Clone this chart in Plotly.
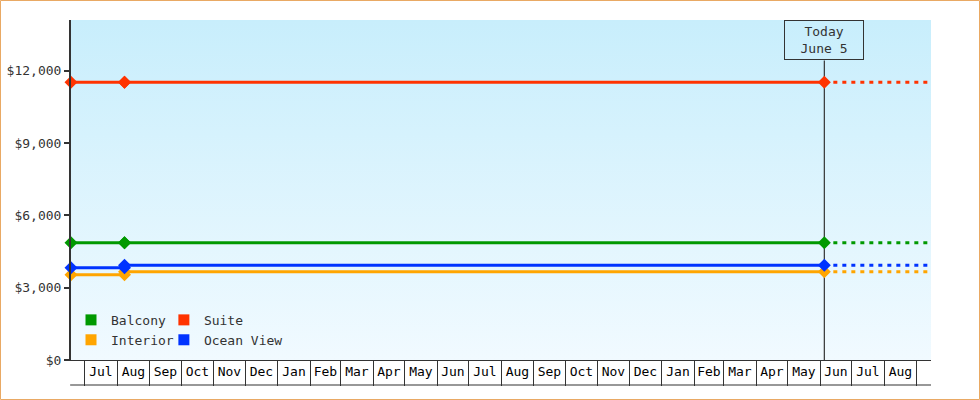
import base64
import plotly.graph_objects as go

# price history per cabin type
dates = ["2023-06-18", "2023-08-08", "2023-08-08", "2025-06-05"]
balcony = [4858, 4858, 4858, 4858]
suite = [11520, 11520, 11520, 11520]
interior = [3534, 3534, 3658, 3658]
ocean_view = [3823, 3823, 3931, 3931]

today = "2025-06-05"
forecast_end = "2025-10-01"

names = ["Balcony", "Suite", "Interior", "Ocean View"]
colors = ["#009900", "#ff3300", "#ffa500", "#0033ff"]
series = [balcony, suite, interior, ocean_view]

y_ticks = [0, 3000, 6000, 9000, 12000]

FONT = "DejaVu Sans Mono"
INK = "#333333"

fig = go.Figure()

# solid history + dashed projection past today
for name, col, vals in zip(names, colors, series):
    fig.add_trace(go.Scatter(
        x=[today, forecast_end], y=[vals[-1], vals[-1]],
        mode="lines", line=dict(color=col, width=3, dash="4px,5px"),
        showlegend=False, hoverinfo="skip"))
for name, col, vals in zip(names, colors, series):
    fig.add_trace(go.Scatter(
        x=dates, y=vals, name=name, mode="lines+markers",
        line=dict(color=col, width=3),
        marker=dict(symbol="diamond", size=10, color=col),
        cliponaxis=False, showlegend=False))

# legend squares: left column Balcony/Interior, right column Suite/Ocean View
for i, (name, col) in enumerate(zip(names, colors)):
    fig.add_trace(go.Scatter(
        x=[None], y=[None], name=name, mode="markers",
        marker=dict(symbol="square", size=11, color=col),
        legend="legend" if i % 2 == 0 else "legend2"))

# gradient background
svg = ('<svg xmlns="http://www.w3.org/2000/svg" width="10" height="100" '
       'viewBox="0 0 10 100" preserveAspectRatio="none"><defs>'
       '<linearGradient id="g" x1="0" y1="0" x2="0" y2="1">'
       '<stop offset="0" stop-color="#c8eefc"/>'
       '<stop offset="1" stop-color="#f1faff"/></linearGradient></defs>'
       '<rect width="10" height="100" fill="url(#g)"/></svg>')
bg = "data:image/svg+xml;base64," + base64.b64encode(svg.encode()).decode()
fig.add_layout_image(source=bg, xref="paper", yref="paper", x=0, y=1,
                     sizex=1, sizey=1, sizing="stretch", layer="below",
                     xanchor="left", yanchor="top")

# today marker line + box
fig.add_shape(type="line", xref="x", yref="paper", x0=today, x1=today,
              y0=0, y1=0.881, line=dict(color=INK, width=1.2), layer="below")
fig.add_annotation(x=today, y=1, xref="x", yref="paper", yanchor="top",
                   text="Today<br>June 5", showarrow=False,
                   font=dict(family=FONT, size=13, color=INK),
                   bordercolor=INK, borderwidth=1, borderpad=2,
                   width=74, height=34)

# bottom line of the month boxes
fig.add_shape(type="line", xref="paper", yref="paper", x0=-0.001, x1=1,
              y0=-25 / 340, y1=-25 / 340, line=dict(color=INK, width=1.2))
# outer frame
fig.add_shape(type="rect", xref="paper", yref="paper",
              x0=(0.5 - 71) / 860, x1=(979.5 - 71) / 860,
              y0=(360 - 399.5) / 340, y1=(360 - 0.5) / 340,
              line=dict(color="#e9a964", width=1))

leg = dict(orientation="v", xanchor="left", yanchor="top", y=0.162,
           bgcolor="rgba(0,0,0,0)", itemwidth=30, tracegroupgap=0,
           font=dict(family=FONT, size=13, color=INK))
fig.update_layout(
    width=980, height=400,
    margin=dict(l=71, r=49, t=20, b=40),
    paper_bgcolor="white", plot_bgcolor="rgba(0,0,0,0)",
    font=dict(family=FONT, size=13, color=INK),
    legend=dict(leg, x=0.0),
    legend2=dict(leg, x=0.108),
)
fig.update_xaxes(
    type="date", range=["2023-06-18", "2025-09-14 16:00"],
    dtick="M1", tick0="2023-07-01", tickformat="%b", ticklabelmode="period",
    ticks="outside", ticklen=25, tickwidth=1.2, tickcolor=INK,
    ticklabelstandoff=-26, automargin=False,
    showline=True, linecolor=INK, linewidth=1.2, showgrid=False, zeroline=False,
    tickfont=dict(family=FONT, size=13, color="black"))
fig.update_yaxes(
    range=[0, 14100], tickvals=y_ticks, tickformat="$,.0f",
    ticks="outside", ticklen=5, tickwidth=2, tickcolor=INK, automargin=False,
    showline=True, linecolor=INK, linewidth=2, showgrid=False, zeroline=False,
    tickfont=dict(family=FONT, size=13, color=INK))

fig.write_html("out.html", config={"displayModeBar": False},
               post_script="document.body.style.margin='0';")
